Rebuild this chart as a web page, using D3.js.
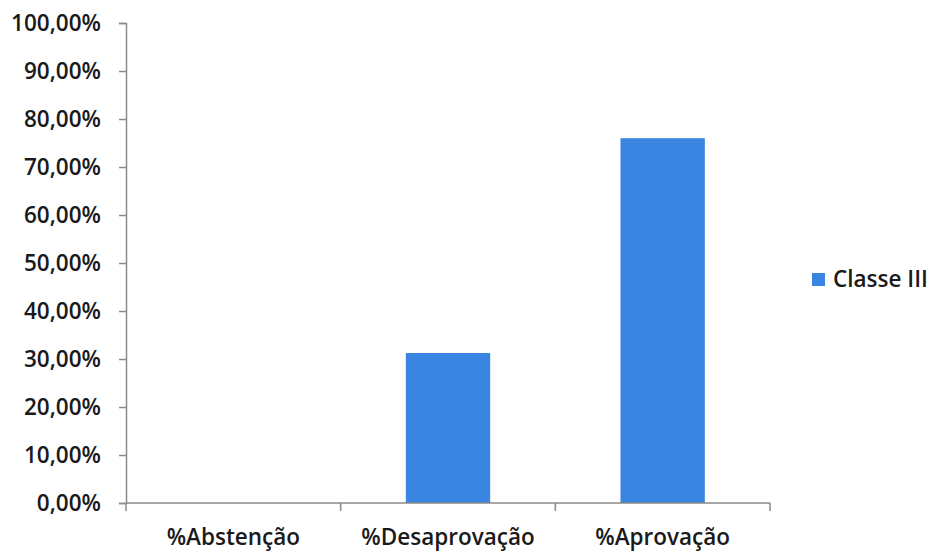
<!DOCTYPE html>
<html><head><meta charset="utf-8">
<script src="https://d3js.org/d3.v7.min.js"></script>
<style>body{margin:0;background:#fff;} text{font-family:"Open Sans",sans-serif;}</style>
</head><body>
<svg id="c" width="930" height="553"></svg>
<script>
const categories = ["%Abstenção", "%Desaprovação", "%Aprovação"];
const values = [0, 0.3125, 0.76];
const seriesName = "Classe III";
const yTicks = [0,0.1,0.2,0.3,0.4,0.5,0.6,0.7,0.8,0.9,1.0];

const svg = d3.select("#c");
const x = d3.scaleBand().domain(categories).range([126, 770]).paddingInner(0.607).paddingOuter(0.3035);
const y = d3.scaleLinear().domain([0,1]).range([503, 23]);
const fmt = v => (v*100).toFixed(2).replace(".", ",") + "%";
const color = "#3b85e2";
const FS = 22.5, FW = 600;

svg.selectAll("rect.bar").data(values).join("rect").attr("class","bar")
  .attr("x",(d,i)=>x(categories[i])).attr("width",x.bandwidth())
  .attr("y",d=>y(d)).attr("height",d=>y(0)-y(d)).attr("fill",color);

// y axis
const ya = svg.append("g").attr("transform","translate(126,0)")
  .call(d3.axisLeft(y).tickValues(yTicks).tickFormat(fmt).tickSize(7).tickPadding(18));
ya.select(".domain").attr("stroke","#8a8a8a").attr("stroke-width",1.5);
ya.selectAll(".tick line").attr("stroke","#8a8a8a").attr("stroke-width",1.5);
ya.selectAll("text").attr("font-size",FS).attr("font-weight",FW).attr("fill","#1a1a1a");

// x axis
const xa = svg.append("g").attr("transform","translate(0,503)");
xa.append("line").attr("x1",126).attr("x2",770).attr("stroke","#8a8a8a").attr("stroke-width",1.5);
xa.selectAll("line.t").data(d3.range(categories.length+1)).join("line").attr("class","t")
  .attr("x1",i=>126 + i*(770-126)/categories.length).attr("x2",i=>126 + i*(770-126)/categories.length)
  .attr("y1",0).attr("y2",8).attr("stroke","#8a8a8a").attr("stroke-width",1.5);
xa.selectAll("text").data(categories).join("text")
  .attr("x",d=>x(d)+x.bandwidth()/2).attr("y",42).attr("text-anchor","middle")
  .attr("font-size",FS).attr("font-weight",FW).attr("fill","#1a1a1a").text(d=>d);

// legend
const lg = svg.append("g").attr("transform","translate(812,273)");
lg.append("rect").attr("width",13).attr("height",13).attr("fill",color);
lg.append("text").attr("x",21).attr("y",14).attr("font-size",FS).attr("font-weight",FW).attr("fill","#1a1a1a").text(seriesName);
</script>
</body></html>
